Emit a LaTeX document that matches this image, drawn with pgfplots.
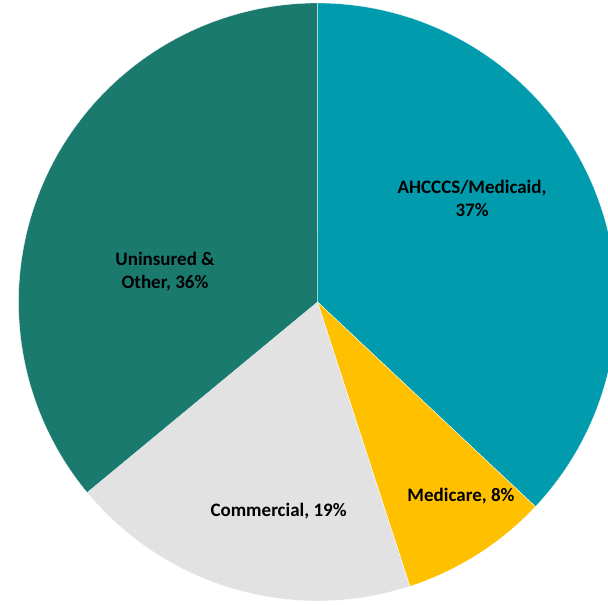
\documentclass[border=0pt]{standalone}
\usepackage{pgfplots}
\usepackage{pgfplotstable}
\pgfplotsset{compat=1.18}
\usepackage{fontspec}
\setmainfont{Carlito}
\definecolor{medicaid}{RGB}{0,156,174}
\definecolor{medicare}{RGB}{255,192,0}
\definecolor{commercial}{RGB}{226,226,226}
\definecolor{uninsured}{RGB}{26,122,110}
\pgfplotstableread{
label value
Medicaid 37
Medicare 8
Commercial 19
Uninsured 36
}\pietable
\pgfplotstablegetelem{0}{value}\of\pietable \let\va\pgfplotsretval
\pgfplotstablegetelem{1}{value}\of\pietable \let\vb\pgfplotsretval
\pgfplotstablegetelem{2}{value}\of\pietable \let\vc\pgfplotsretval
\pgfplotstablegetelem{3}{value}\of\pietable \let\vd\pgfplotsretval
\pgfmathsetmacro\aA{90}
\pgfmathsetmacro\aB{\aA-3.6*\va}
\pgfmathsetmacro\aC{\aB-3.6*\vb}
\pgfmathsetmacro\aD{\aC-3.6*\vc}
\pgfmathsetmacro\aE{\aD-3.6*\vd}
\begin{document}%
\begin{tikzpicture}
\begin{axis}[name=ax,
  scale only axis, width=304pt, height=302.5pt,
  xmin=-1.0619, xmax=0.9716, ymin=-1.0134, ymax=1.0100,
  hide axis, clip=true,
  every axis plot/.append style={draw=white, line width=0.15pt, samples=120, smooth},
]
\addplot[fill=medicaid, domain=\aB:\aA] ({cos(x)},{sin(x)}) -- (0,0) -- cycle;
\addplot[fill=medicare, domain=\aC:\aB] ({cos(x)},{sin(x)}) -- (0,0) -- cycle;
\addplot[fill=commercial, domain=\aD:\aC] ({cos(x)},{sin(x)}) -- (0,0) -- cycle;
\addplot[fill=uninsured, domain=\aE:\aD] ({cos(x)},{sin(x)}) -- (0,0) -- cycle;
\begin{scope}[every node/.style={font=\fontsize{9.5}{11.5}\selectfont\bfseries, align=center, text=black}]
\node at (0.517,0.348) {AHCCCS/Medicaid,\\37\%};
\node at (0.480,-0.649) {Medicare, 8\%};
\node at (-0.130,-0.699) {Commercial, 19\%};
\node at (-0.510,0.100) {Uninsured \&\\Other, 36\%};
\end{scope}
\end{axis}
\pgfresetboundingbox
\useasboundingbox (ax.south west) rectangle (ax.north east);
\end{tikzpicture}%
\end{document}
